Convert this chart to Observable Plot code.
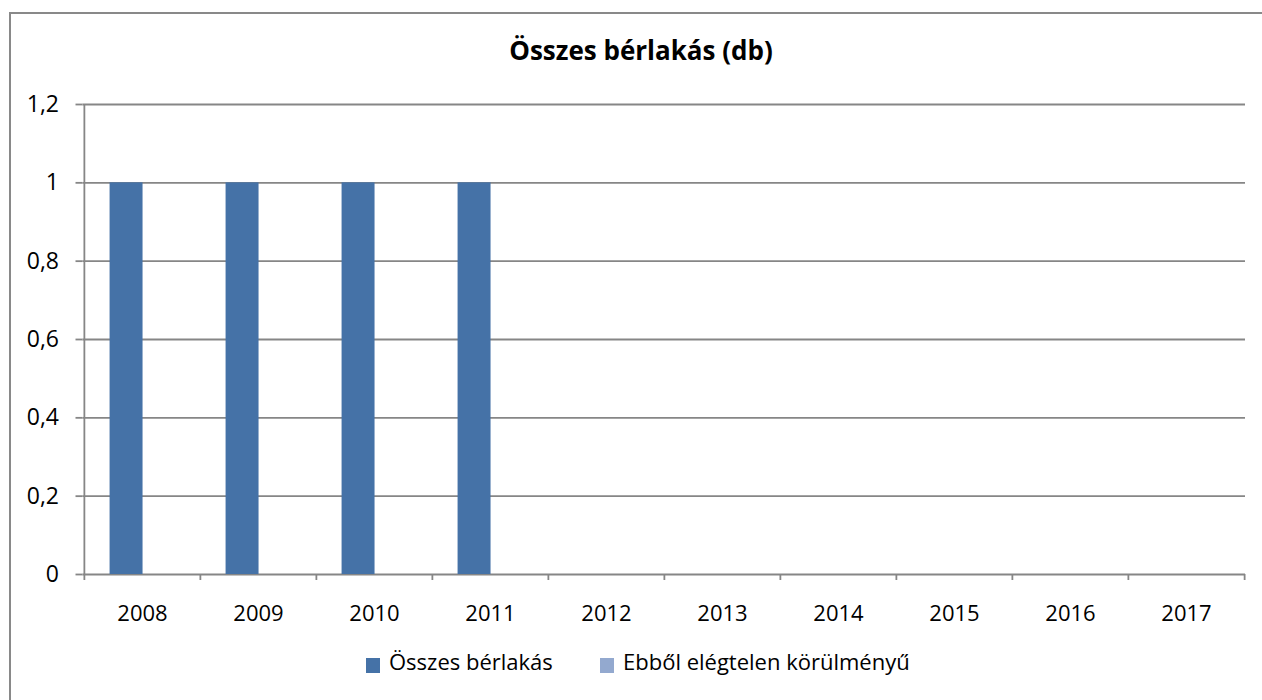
<!DOCTYPE html>
<html>
<head>
<meta charset="utf-8">
<script src="https://cdn.jsdelivr.net/npm/d3@7"></script>
<script src="https://cdn.jsdelivr.net/npm/@observablehq/plot@0.6"></script>
<style>
  html, body { margin: 0; padding: 0; background: #fff; width: 1262px; height: 700px; overflow: hidden; }
  body { position: relative; font-family: "Open Sans", sans-serif; color: #000; }
  #frame { position: absolute; left: 9px; top: 12px; width: 1300px; height: 720px; border: 2px solid #898989; box-sizing: border-box; }
  #title { position: absolute; left: 0; width: 1282px; top: 35px; text-align: center; font-weight: bold; font-size: 26px; line-height: 1.2; }
  #chart { position: absolute; left: 0; top: 80px; }
  #legend { position: absolute; top: 648px; left: 0; font-size: 22px; line-height: 1.2; }
  .item { position: absolute; white-space: nowrap; }
  .sw { position: absolute; width: 14px; height: 15px; top: 10px; }
  .lbl { position: absolute; top: 0; }
</style>
</head>
<body>
<div id="frame"></div>
<div id="title"></div>
<div id="chart"></div>
<div id="legend"></div>
<script>
const titleText = "Összes bérlakás (db)";
const years = ["2008","2009","2010","2011","2012","2013","2014","2015","2016","2017"];
const seriesNames = ["Összes bérlakás", "Ebből elégtelen körülményű"];
const totalValues = [1, 1, 1, 1, 0, 0, 0, 0, 0, 0];
const poorValues  = [0, 0, 0, 0, 0, 0, 0, 0, 0, 0];
const yTicks = [0, 0.2, 0.4, 0.6, 0.8, 1, 1.2];
const colors = ["#4572A7", "#93A9CF"];

document.getElementById("title").textContent = titleText;

const W = 1262, H = 560;
const mL = 82.5, mR = 17, mT = 24, mB = 66;
const bw = (W - mL - mR) / years.length;
const barW = bw / 3.5;
const off1 = bw * 0.22;
const rows = years.map((y, i) => ({year: y, total: totalValues[i], poor: poorValues[i]}));
const fmt = d => String(d).replace(".", ",");
const grid = "#868686";

const plot = Plot.plot({
  width: W, height: H,
  marginLeft: mL, marginRight: mR, marginTop: mT, marginBottom: mB,
  style: {fontFamily: "Open Sans, sans-serif", fontSize: "22px", color: "#000", background: "transparent"},
  x: {type: "band", domain: years, padding: 0},
  y: {domain: [0, 1.2]},
  marks: [
    Plot.ruleY(yTicks, {stroke: grid, strokeWidth: 1.8}),
    Plot.ruleX(years.slice(0, 1), {x: d => d, dx: -bw / 2, stroke: grid, strokeWidth: 1.8}),
    Plot.ruleX(years, {x: d => d, dx: -bw / 2, y1: () => 0, y2: () => 0, insetBottom: -6, stroke: grid, strokeWidth: 1.8}),
    Plot.ruleX(years.slice(-1), {x: d => d, dx: bw / 2, y1: () => 0, y2: () => 0, insetBottom: -6, stroke: grid, strokeWidth: 1.8}),
    Plot.barY(rows, {x: "year", y: "total", fill: colors[0], insetLeft: off1, insetRight: bw - off1 - barW}),
    Plot.barY(rows, {x: "year", y: "poor", fill: colors[1], insetLeft: off1 + barW, insetRight: bw - off1 - 2 * barW}),
    Plot.axisY({ticks: yTicks, tickFormat: fmt, tickSize: 7, tickPadding: 17, stroke: grid, strokeWidth: 1.8, fontSize: 23, label: null}),
    Plot.axisX({tickSize: 0, tickPadding: 31, fontSize: 22, label: null})
  ]
});
document.getElementById("chart").appendChild(plot);

const legend = document.getElementById("legend");
const lx = [366, 600];
seriesNames.forEach((name, i) => {
  const it = document.createElement("div");
  it.className = "item";
  it.style.left = lx[i] + "px";
  const sw = document.createElement("div");
  sw.className = "sw";
  sw.style.background = colors[i];
  const lb = document.createElement("div");
  lb.className = "lbl";
  lb.style.left = "23px";
  lb.textContent = name;
  it.appendChild(sw); it.appendChild(lb);
  legend.appendChild(it);
});
</script>
</body>
</html>
